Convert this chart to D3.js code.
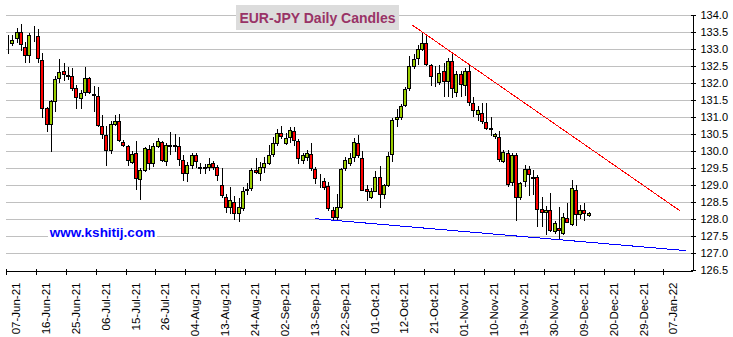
<!DOCTYPE html>
<html>
<head>
<meta charset="utf-8">
<script src="https://cdn.jsdelivr.net/npm/d3@7/dist/d3.min.js"></script>
<style>
  html, body { margin: 0; padding: 0; background: #fff; }
  svg { display: block; font-family: "Liberation Sans", Arial, sans-serif; }
</style>
</head>
<body>
<svg id="chart" width="733" height="337"></svg>
<script>
// EUR-JPY daily OHLC, one entry per weekday starting 07-Jun-2021
const startDate = "2021-06-07";
const open = [
  133.20,133.19,133.31,133.49,133.07,132.82,133.41,133.38,132.68,131.26,
  130.79,131.46,132.15,132.34,132.24,132.21,131.85,131.56,131.74,132.15,
  131.67,131.63,130.75,130.47,130.03,130.79,130.87,130.26,130.15,129.68,
  129.95,129.18,129.45,130.06,129.65,130.15,130.26,129.72,130.17,130.16,
  130.15,129.74,129.34,129.58,129.87,129.52,129.50,129.54,129.64,129.52,
  128.99,128.66,128.34,128.51,128.19,128.31,128.86,128.90,129.43,129.36,
  129.54,129.66,129.90,130.25,130.52,130.23,130.42,130.59,130.28,129.75,
  129.81,129.91,129.46,129.16,129.12,128.97,128.26,128.07,128.36,129.49,
  129.66,129.81,130.25,129.79,128.89,128.66,128.83,129.23,128.74,128.99,
  129.91,130.93,130.99,131.36,131.85,132.49,132.74,133.01,133.18,132.52,
  132.15,132.03,132.34,132.05,132.66,131.74,132.26,131.93,132.36,131.41,
  131.09,131.12,130.85,130.67,130.44,130.41,129.70,129.95,129.08,129.88,
  128.64,129.11,129.48,129.25,129.24,128.29,128.20,128.25,127.66,127.75,
  127.59,128.03,127.85,128.86,128.16,128.27,128.11
];
const high = [
  133.40,133.40,133.61,133.75,133.20,133.46,133.68,133.58,132.89,131.30,
  131.51,132.20,132.71,132.59,132.47,132.44,131.95,131.80,132.46,132.17,
  131.90,131.87,131.07,130.73,130.87,131.05,131.09,130.33,130.19,129.99,
  130.30,129.50,130.12,130.19,130.24,130.38,130.30,130.24,130.56,130.50,
  130.42,129.88,129.69,129.93,129.95,129.64,129.62,129.78,129.71,129.59,
  129.49,128.75,128.93,128.68,128.61,128.93,129.05,129.49,129.78,129.69,
  129.83,130.18,130.40,130.64,130.74,130.52,130.70,130.70,130.34,129.93,
  130.03,130.23,129.54,129.32,129.20,129.10,128.34,128.75,129.49,129.81,
  129.93,130.38,130.48,129.99,129.01,128.91,129.40,129.55,129.03,129.96,
  130.97,131.25,131.38,131.87,132.78,132.85,133.13,133.50,133.42,132.56,
  132.50,132.54,132.59,132.74,132.91,132.34,132.34,132.44,132.54,131.58,
  131.31,131.41,131.40,130.99,130.53,130.58,130.04,130.04,129.95,129.95,
  129.10,129.60,129.57,129.45,129.30,128.65,128.37,128.76,127.93,128.35,
  128.18,128.47,129.14,129.01,128.42,128.47,128.21
];
const low = [
  132.88,133.12,133.22,132.97,132.63,132.63,133.24,132.63,131.00,130.58,
  130.01,131.19,132.03,132.10,132.12,131.80,131.26,131.27,131.64,131.70,
  131.17,130.75,130.38,129.60,129.94,130.77,130.28,130.14,129.60,129.65,
  128.89,128.60,129.40,129.48,129.55,130.11,129.70,129.60,129.91,129.99,
  129.58,129.15,129.13,129.49,129.54,129.34,129.35,129.44,129.46,129.15,
  128.66,128.22,128.17,128.00,127.95,128.26,128.75,128.85,129.34,129.15,
  129.39,129.62,129.85,130.18,130.37,130.20,130.27,130.18,129.64,129.64,
  129.74,129.44,129.05,128.95,128.87,128.26,128.00,127.97,128.31,129.44,
  129.59,129.70,129.81,128.84,128.57,128.62,128.81,128.34,128.62,128.96,
  129.72,130.75,130.94,131.31,131.80,132.44,132.56,132.98,132.54,131.95,
  131.92,131.97,131.61,131.61,131.58,131.61,131.61,131.66,131.36,131.02,
  130.92,130.82,130.66,130.48,130.38,129.72,129.67,128.96,129.00,127.98,
  128.58,128.96,128.70,128.75,127.80,127.80,127.55,127.64,127.59,127.44,
  127.57,127.90,127.83,127.83,128.03,127.98,128.08
];
const close = [
  133.22,133.25,133.49,133.14,132.82,133.41,133.40,132.73,131.26,130.79,
  131.46,132.12,132.32,132.26,132.21,131.86,131.59,131.71,132.15,131.75,
  131.65,130.77,130.50,130.03,130.79,130.87,130.32,130.19,129.74,129.92,
  129.21,129.45,130.09,129.65,130.15,130.30,129.74,130.19,130.16,130.18,
  129.77,129.36,129.59,129.87,129.72,129.50,129.52,129.61,129.54,129.28,
  128.70,128.34,128.56,128.19,128.36,128.81,128.88,129.43,129.37,129.54,
  129.64,129.88,130.23,130.52,130.44,130.39,130.62,130.32,129.78,129.88,
  129.93,129.49,129.22,129.14,128.95,128.31,128.07,128.36,129.46,129.75,
  129.78,130.26,129.87,128.86,128.83,128.83,129.25,128.74,128.99,129.84,
  130.90,131.01,131.33,131.82,132.49,132.71,133.00,133.18,132.56,132.20,
  132.14,132.29,132.05,132.66,131.85,132.26,131.97,132.36,131.44,131.22,
  131.22,130.87,130.68,130.65,130.51,129.76,129.97,129.03,129.88,128.64,
  129.06,129.48,129.33,129.22,128.30,128.20,128.27,127.69,127.88,127.69,
  128.05,127.91,128.91,128.16,128.25,128.18,128.18
];

// date labels on the time axis, one every seven trading days
const tickLabels = [
  "07-Jun-21","16-Jun-21","25-Jun-21","06-Jul-21","15-Jul-21","26-Jul-21",
  "04-Aug-21","13-Aug-21","24-Aug-21","02-Sep-21","13-Sep-21","22-Sep-21",
  "01-Oct-21","12-Oct-21","21-Oct-21","01-Nov-21","10-Nov-21","19-Nov-21",
  "30-Nov-21","09-Dec-21","20-Dec-21","29-Dec-21","07-Jan-22"
];
const tickStep = 7;
const priceTicks = [126.5,127.0,127.5,128.0,128.5,129.0,129.5,130.0,130.5,131.0,131.5,132.0,132.5,133.0,133.5,134.0];

// trend lines: [trading-day index, price]
const resistanceLine = [[95.1, 133.71], [157.9, 128.24]];
const supportLine = [[72.4, 128.01], [159.3, 127.07]];

const titleText = "EUR-JPY Daily Candles";
const siteText = "www.kshitij.com";

// trading days (weekdays) for each candle
const days = d3.timeDay.range(new Date(startDate + "T00:00:00"), new Date("2022-01-31T00:00:00"))
  .filter(d => d.getDay() !== 0 && d.getDay() !== 6)
  .slice(0, open.length);
const candles = days.map((d, i) => ({ i, date: d, o: open[i], h: high[i], l: low[i], c: close[i] }));

const svg = d3.select("#chart");
const W = 733, H = 337;
const plotLeft = 6, plotRight = 692, plotTop = 15, plotBottom = 270;

const x = d3.scaleLinear().domain([0, 160.7]).range([plotLeft, plotRight]);
const y = d3.scaleLinear().domain([126.5, 134]).range([plotBottom, plotTop]);
const px = v => Math.round(v) + 0.5;

svg.append("rect").attr("width", W).attr("height", H).attr("fill", "#fff");

// horizontal grid
svg.append("g").selectAll("line")
  .data(priceTicks.filter(v => v > 126.5))
  .join("line")
  .attr("x1", plotLeft).attr("x2", plotRight)
  .attr("y1", d => px(y(d))).attr("y2", d => px(y(d)))
  .attr("stroke", "#c0c0c0").attr("stroke-width", 1)
  .attr("shape-rendering", "crispEdges");

// website label on a white patch
const site = svg.append("g");
site.append("rect").attr("x", 48).attr("y", 224).attr("width", 109).attr("height", 15).attr("fill", "#fff");
site.append("text").attr("x", 102.5).attr("y", 236.5).attr("text-anchor", "middle")
  .attr("font-size", "13.5px").attr("font-weight", "bold").attr("fill", "#0000ff")
  .text(siteText);

// candles
const cg = svg.append("g").attr("shape-rendering", "crispEdges");
const cx = d => Math.round(x(d.i + 0.5));
cg.selectAll("line.wick").data(candles).join("line")
  .attr("class", "wick")
  .attr("x1", d => cx(d) + 0.5).attr("x2", d => cx(d) + 0.5)
  .attr("y1", d => Math.round(y(d.h))).attr("y2", d => Math.round(y(d.l)) + 1)
  .attr("stroke", "#000").attr("stroke-width", 1);
cg.selectAll("rect.body").data(candles).join("rect")
  .attr("class", "body")
  .attr("x", d => cx(d) - 1.5)
  .attr("width", 3)
  .attr("y", d => px(y(Math.max(d.o, d.c))))
  .attr("height", d => Math.max(0, Math.round(y(Math.min(d.o, d.c))) - Math.round(y(Math.max(d.o, d.c)))))
  .attr("fill", d => d.c >= d.o ? "#99cc00" : "#ff0000")
  .attr("stroke", "#000").attr("stroke-width", 1);

// trend lines
const line = d3.line().x(d => x(d[0])).y(d => y(d[1]));
svg.append("path").datum(resistanceLine).attr("d", line)
  .attr("fill", "none").attr("stroke", "#ff0000").attr("stroke-width", 1)
  .attr("shape-rendering", "crispEdges");
svg.append("path").datum(supportLine).attr("d", line)
  .attr("fill", "none").attr("stroke", "#0000ff").attr("stroke-width", 1)
  .attr("shape-rendering", "crispEdges");

// time axis
const xAxis = d3.axisBottom(x)
  .tickValues(d3.range(0, tickLabels.length * tickStep, tickStep))
  .tickFormat((d, k) => tickLabels[k])
  .tickSizeInner(4).tickSizeOuter(0);
const gx = svg.append("g").attr("transform", `translate(0,${plotBottom + 0.5})`).call(xAxis);
gx.select(".domain").attr("stroke", "#000").attr("shape-rendering", "crispEdges");
gx.selectAll(".tick line").attr("y1", -2).attr("stroke", "#000").attr("shape-rendering", "crispEdges");
gx.selectAll(".tick text")
  .attr("transform", "rotate(-90)")
  .attr("x", -12).attr("y", 9.5).attr("dy", "0.35em")
  .attr("text-anchor", "end")
  .attr("font-size", "11.5px").attr("font-family", "'Liberation Sans', Arial, sans-serif")
  .attr("fill", "#000");

// price axis
const yAxis = d3.axisRight(y)
  .tickValues(priceTicks)
  .tickFormat(d3.format(".1f"))
  .tickSizeInner(3).tickSizeOuter(0).tickPadding(5);
const gy = svg.append("g").attr("transform", `translate(${plotRight + 0.5},0)`).call(yAxis);
gy.select(".domain").attr("stroke", "#000").attr("shape-rendering", "crispEdges");
gy.selectAll(".tick line").attr("x1", -2).attr("stroke", "#000").attr("shape-rendering", "crispEdges");
gy.selectAll(".tick text")
  .attr("font-size", "11px").attr("font-family", "'Liberation Sans', Arial, sans-serif")
  .attr("fill", "#000");

// title box
const tg = svg.append("g");
tg.append("rect").attr("x", 236).attr("y", 5).attr("width", 163).attr("height", 25).attr("fill", "#dcdcdc");
tg.append("text").attr("x", 317.5).attr("y", 23).attr("text-anchor", "middle")
  .attr("font-size", "14px").attr("font-weight", "bold").attr("fill", "#993366")
  .text(titleText);
</script>
</body>
</html>
